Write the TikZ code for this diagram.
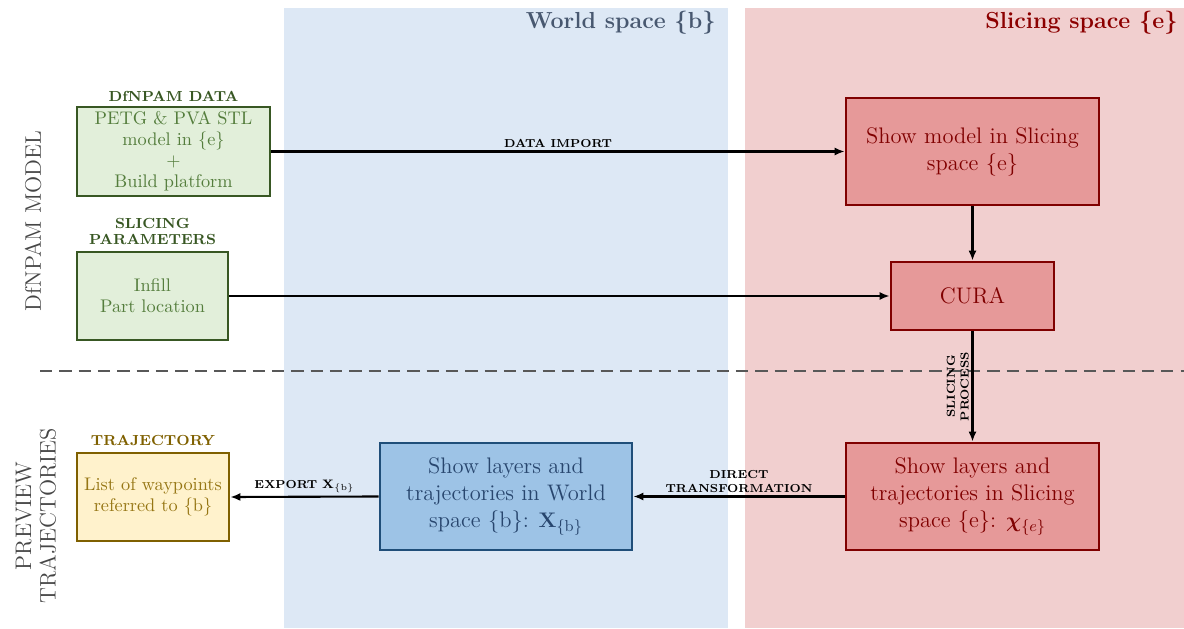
\documentclass[tikz,border=0pt]{standalone}
\usepackage{xcolor}
\usepackage{bm}
\usepackage{tikz}
\usetikzlibrary{arrows.meta,positioning,calc}
\definecolor{worldbg}{RGB}{221,232,245}
\definecolor{worldtxt}{RGB}{72,88,112}
\definecolor{slicebg}{RGB}{241,207,207}
\definecolor{slicetxt}{RGB}{140,0,0}
\definecolor{redfill}{RGB}{230,153,153}
\definecolor{reddraw}{RGB}{128,0,0}
\definecolor{bluefill}{RGB}{157,195,230}
\definecolor{bluedraw}{RGB}{31,78,121}
\definecolor{bluetxt}{RGB}{40,70,110}
\definecolor{greenfill}{RGB}{226,239,218}
\definecolor{greendraw}{RGB}{56,87,35}
\definecolor{greentxt}{RGB}{84,125,60}
\definecolor{yellowfill}{RGB}{255,242,204}
\definecolor{yellowdraw}{RGB}{127,96,0}
\definecolor{yellowtxt}{RGB}{150,118,20}
\definecolor{sidegray}{RGB}{70,70,70}

\begin{document}
\begin{tikzpicture}[
    redbox/.style={fill=redfill, draw=reddraw, line width=1.5pt, text=reddraw,
        align=center, font=\fontsize{12.8}{15.4}\selectfont, inner sep=2pt},
    bluebox/.style={fill=bluefill, draw=bluedraw, line width=1.5pt, text=bluetxt,
        align=center, font=\fontsize{12.8}{15.4}\selectfont, inner sep=2pt},
    greenbox/.style={fill=greenfill, draw=greendraw, line width=1.5pt, text=greentxt,
        align=center, font=\fontsize{10.4}{12}\selectfont, inner sep=1pt},
    yellowbox/.style={fill=yellowfill, draw=yellowdraw, line width=1.5pt, text=yellowtxt,
        align=center, font=\fontsize{10.4}{12}\selectfont, inner sep=1pt},
    boxhead/.style={font=\fontsize{8.3}{9.5}\selectfont\bfseries, align=center, inner sep=1pt},
    spacehead/.style={font=\fontsize{13.2}{15}\selectfont\bfseries, anchor=east, inner sep=0pt},
    sidelabel/.style={font=\fontsize{12.8}{14}\selectfont, text=sidegray,
        rotate=90, align=center},
    flow/.style={-{Latex[length=2mm,width=1.6mm]}, line width=1.2pt},
    flowlabel/.style={font=\fontsize{6.6}{7.8}\selectfont\bfseries, align=center, inner sep=1.5pt}]

    % picture frame (1184 x 628 px at 50 px per cm)
    \useasboundingbox (0,0) rectangle (23.68,12.56);

    % Space bands
    \fill[worldbg] (5.68,0) rectangle (14.56,12.4);
    \fill[slicebg] (14.9,0) rectangle (23.68,12.4);
    \node[spacehead, text=worldtxt] (worldhead) at (14.32,12.1) {World space \{b\}};
    \node[spacehead, text=slicetxt] (slicehead) at (23.56,12.1) {Slicing space \{e\}};

    % Separator between the two stages
    \draw[dashed, dash pattern=on 7pt off 4pt, sidegray!90, line width=0.9pt] (0.8,5.14) -- (23.68,5.14);

    % Stage labels
    \node[sidelabel] (modellbl) at (0.66,8.14) {DfNPAM MODEL};
    \node[sidelabel] (previewlbl) at (0.72,2.24) {PREVIEW\\TRAJECTORIES};

    % DfNPAM model row
    \node[greenbox, minimum width=3.86cm, minimum height=1.78cm] (stl) at (3.47,9.53)
        {PETG \& PVA STL\\model in \{e\}\\+\\Build platform};
    \node[boxhead, text=greendraw, above=1pt of stl] (stlhead) {DfNPAM DATA};
    \node[greenbox, minimum width=3.02cm, minimum height=1.76cm] (params) at (3.05,6.64)
        {Infill\\Part location};
    \node[boxhead, text=greendraw, above=2pt of params] (paramshead) {SLICING\\PARAMETERS};

    \node[redbox, minimum width=5.06cm, minimum height=2.14cm] (model) at (19.45,9.53)
        {Show model in Slicing\\space \{e\}};
    \node[redbox, minimum width=3.26cm, minimum height=1.36cm] (cura) at (19.45,6.64) {CURA};

    % Preview row
    \node[redbox, minimum width=5.06cm, minimum height=2.14cm] (slicelayers) at (19.45,2.63)
        {Show layers and\\trajectories in Slicing\\space \{e\}: $\bm{\chi}_{\{e\}}$};
    \node[bluebox, minimum width=5.04cm, minimum height=2.14cm] (worldlayers) at (10.12,2.63)
        {Show layers and\\trajectories in World\\space \{b\}: $\mathbf{X}_{\{\mathrm{b}\}}$};
    \node[yellowbox, minimum width=3.04cm, minimum height=1.76cm] (waypoints) at (3.06,2.62)
        {List of waypoints\\referred to \{b\}};
    \node[boxhead, text=yellowdraw, above=2pt of waypoints] (waypointshead) {TRAJECTORY};

    % Connectors
    \draw[flow] (stl.east) -- node[flowlabel, above] {DATA IMPORT} (model.west);
    \draw[flow] (params.east) -- (cura.west);
    \draw[flow] (model.south) -- (cura.north);
    \draw[flow] (cura.south) -- node[flowlabel, rotate=90, above] {SLICING\\PROCESS} (slicelayers.north);
    \draw[flow] (slicelayers.west) -- node[flowlabel, above] {DIRECT\\TRANSFORMATION} (worldlayers.east);
    \draw[flow] (worldlayers.west) -- node[flowlabel, above] {EXPORT $\mathbf{X}_{\{\mathrm{b}\}}$} (waypoints.east);
\end{tikzpicture}
\end{document}
